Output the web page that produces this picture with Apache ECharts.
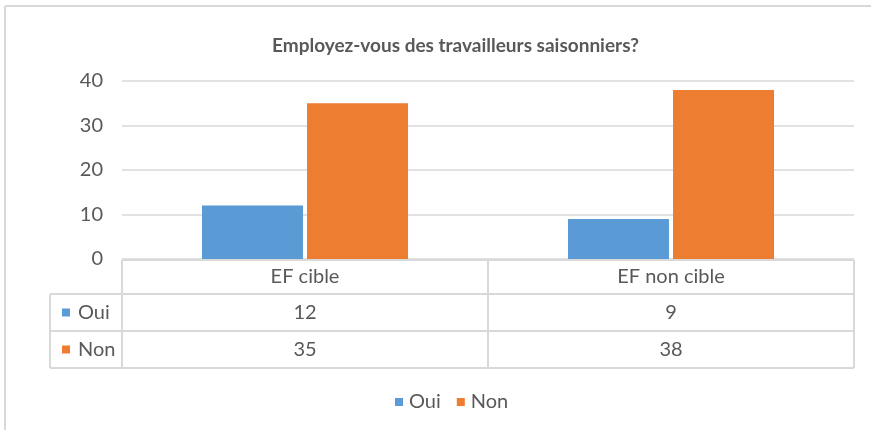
<!DOCTYPE html>
<html>
<head>
<meta charset="utf-8">
<script src="https://cdn.jsdelivr.net/npm/echarts@6/dist/echarts.min.js"></script>
<style>
  html, body { margin: 0; padding: 0; background: #fff; }
  #myChart { width: 871px; height: 430px; }
</style>
</head>
<body>
<div id="myChart"></div>
<script>
// Employez-vous des travailleurs saisonniers?
const categories = ['EF cible', 'EF non cible'];
const seriesNames = ['Oui', 'Non'];
const oui = [12, 9];
const non = [35, 38];
const yTicks = [0, 10, 20, 30, 40];

const colors = ['#5B9BD5', '#ED7D31'];
const textColor = '#595959';
const lineColor = '#d9d9d9';
const font = 'Lato, "Liberation Sans", sans-serif';

const option = {
  animation: false,
  backgroundColor: '#fff',
  color: colors,
  title: {
    text: 'Employez-vous des travailleurs saisonniers?',
    left: 267,
    top: 31,
    textStyle: { fontFamily: font, fontSize: 19, fontWeight: 'bold', color: textColor }
  },
  legend: {
    data: seriesNames,
    bottom: 13,
    left: 390,
    icon: 'rect',
    itemWidth: 8,
    itemHeight: 8,
    itemGap: 16,
    textStyle: { fontFamily: font, fontSize: 20, color: textColor, padding: [0, 0, 0, 1] }
  },
  grid: { left: 122, right: 17, top: 81, bottom: 171 },
  xAxis: {
    type: 'category',
    data: categories,
    axisLine: { show: false },
    axisTick: { show: false },
    axisLabel: { show: false }
  },
  yAxis: {
    type: 'value',
    min: yTicks[0],
    max: yTicks[yTicks.length - 1],
    interval: 10,
    axisLine: { show: false },
    axisTick: { show: false },
    axisLabel: { margin: 19, fontFamily: font, fontSize: 20, color: textColor },
    splitLine: { lineStyle: { color: lineColor, width: 1.5 } }
  },
  series: [
    { name: seriesNames[0], type: 'bar', data: oui, barWidth: 101, barGap: '4%' },
    { name: seriesNames[1], type: 'bar', data: non, barWidth: 101, barGap: '4%' }
  ]
};

const myChart = echarts.init(document.getElementById('myChart'));
myChart.setOption(option);

// data table under the plot, built from the axis positions
const c0 = myChart.convertToPixel({ xAxisIndex: 0 }, 0);
const c1 = myChart.convertToPixel({ xAxisIndex: 0 }, 1);
const band = c1 - c0;
const y0 = myChart.convertToPixel({ yAxisIndex: 0 }, 0);
const xl = c0 - band / 2;
const xr = c1 + band / 2;
const keyLeft = 50;
const headH = 34;
const rowH = 37;
const rowsTop = y0 + 1 + headH;

const line = (x1, y1, x2, y2, w, col) => ({
  type: 'line',
  shape: { x1, y1, x2, y2 },
  style: { stroke: col || lineColor, lineWidth: w || 2 },
  silent: true
});
const label = (x, y, text, align) => ({
  type: 'text',
  x, y,
  style: {
    text, fill: textColor, font: `20px ${font}`,
    align: align || 'center', verticalAlign: 'middle'
  },
  silent: true
});

const g = [];
// outer frame
g.push(line(5, 6, 871, 6, 2, '#d9d9d9'));
g.push(line(5, 6, 5, 430, 2, '#d9d9d9'));
// horizontal table lines
g.push(line(xl, y0 + 1, xr, y0 + 1));
[0, 1, 2].forEach(i => g.push(line(keyLeft, rowsTop + i * rowH, xr, rowsTop + i * rowH)));
// vertical table lines
[xl, (c0 + c1) / 2, xr].forEach(x => g.push(line(x, y0 + 1, x, rowsTop + 2 * rowH)));
g.push(line(keyLeft, rowsTop, keyLeft, rowsTop + 2 * rowH));
// header
categories.forEach((c, i) => g.push(label(i === 0 ? c0 : c1, y0 + 1 + headH / 2, c)));
// rows
[oui, non].forEach((vals, r) => {
  const yc = rowsTop + rowH * r + rowH / 2;
  g.push({
    type: 'rect',
    shape: { x: 62, y: yc - 4, width: 8, height: 8 },
    style: { fill: colors[r] },
    silent: true
  });
  g.push(label(78, yc, seriesNames[r], 'left'));
  vals.forEach((v, i) => g.push(label(i === 0 ? c0 : c1, yc, String(v))));
});

myChart.setOption({ graphic: g });
</script>
</body>
</html>
